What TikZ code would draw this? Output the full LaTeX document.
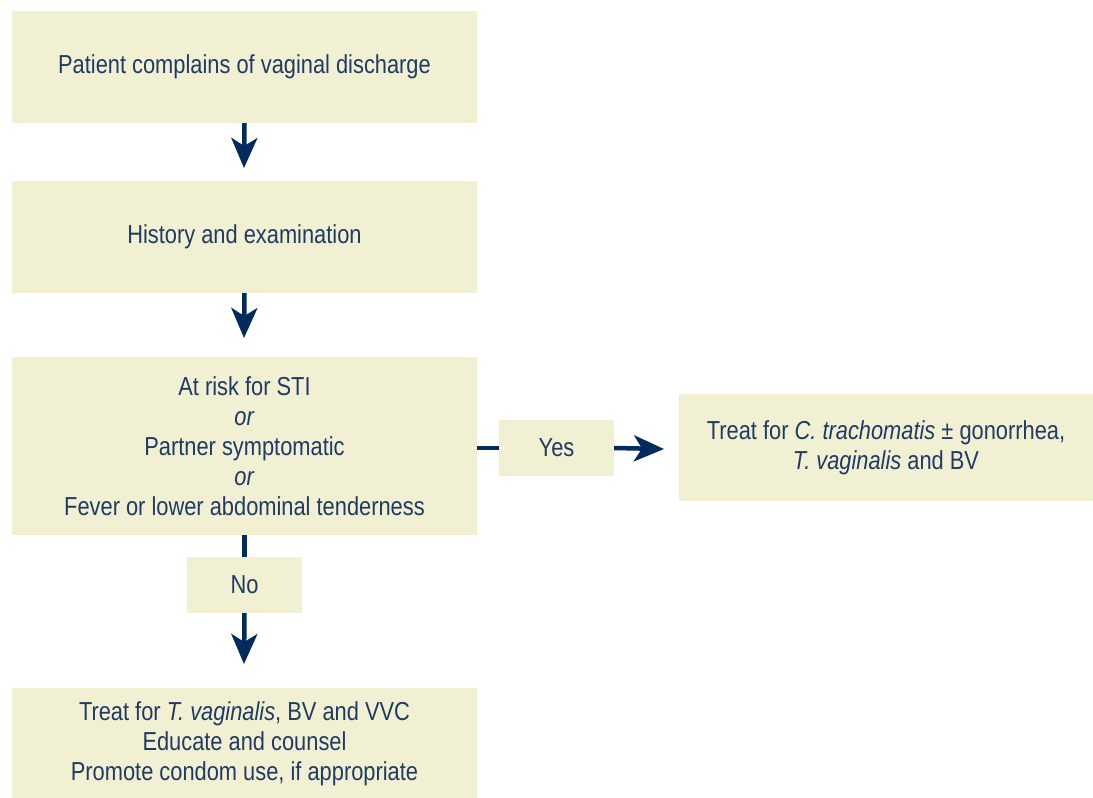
\documentclass[tikz,border=0pt]{standalone}
\usepackage{fontspec}
\setmainfont{Liberation Sans}[FakeStretch=0.84]
\usetikzlibrary{arrows.meta}
\definecolor{boxfill}{HTML}{F2F0D3}
\definecolor{navy}{HTML}{002B5C}
\definecolor{txt}{HTML}{1F3B63}
\begin{document}
\begin{tikzpicture}[x=1pt,y=-1pt,
  box/.style={fill=boxfill,draw=none,inner sep=0pt,align=center,text=txt,
    font=\fontsize{26}{30}\selectfont},
  conn/.style={draw=navy,line width=4.5pt},
  arr/.style={conn,-{Stealth[length=30pt,width=26pt,inset=8pt]}}]
\useasboundingbox (0,0) rectangle (1093,798);
\node[box,minimum width=465pt,minimum height=112pt] (a) at (244.5,67) {Patient complains of vaginal discharge};
\node[box,minimum width=465pt,minimum height=112pt] (b) at (244.5,237) {History and examination};
\node[box,minimum width=465pt,minimum height=178pt] (c) at (244.5,446) {At risk for STI\\\textit{or}\\Partner symptomatic\\\textit{or}\\Fever or lower abdominal tenderness};
\node[box,minimum width=414pt,minimum height=107pt] (d) at (886,447.5) {Treat for \textit{C. trachomatis} ± gonorrhea,\\\textit{T. vaginalis} and BV};
\node[box,minimum width=465pt,minimum height=112pt] (e) at (244.5,744) {Treat for \textit{T. vaginalis}, BV and VVC\\Educate and counsel\\Promote condom use, if appropriate};
\node[box,minimum width=115pt,minimum height=56pt] (yes) at (556.5,448) {Yes};
\node[box,minimum width=115pt,minimum height=56pt] (no) at (244.5,585) {No};
\coordinate (a1) at (244,168);
\coordinate (b1) at (244,338);
\coordinate (n1) at (244,664);
\coordinate (y1) at (664,449);
\draw[arr] (a.south) -- (a1);
\draw[arr] (b.south) -- (b1);
\draw[conn] (c.south) -- (no.north);
\draw[arr] (no.south) -- (n1);
\draw[conn] (c.east |- yes.west) -- (yes.west);
\draw[arr] (yes.east) -- (y1);
\end{tikzpicture}
\end{document}
